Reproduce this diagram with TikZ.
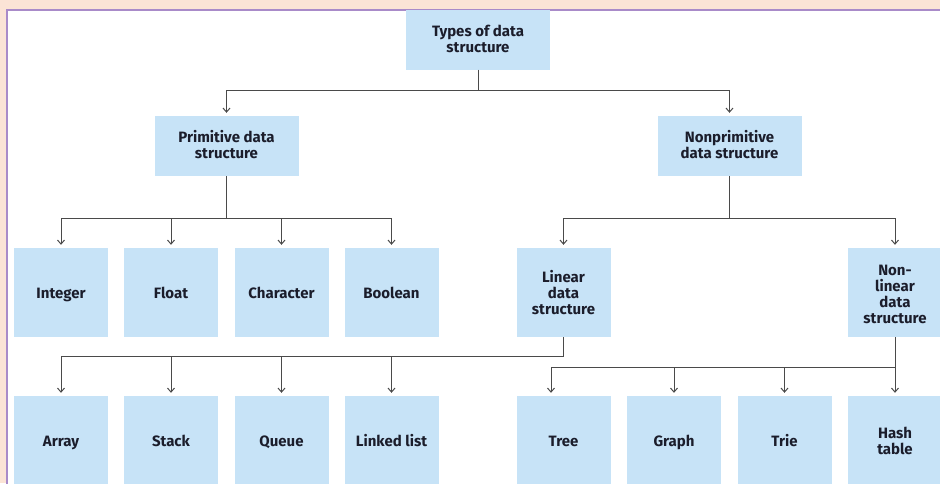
\documentclass[tikz,border=0pt]{standalone}
\usepackage{fontspec}
\setmainfont{Fira Sans}
\usetikzlibrary{arrows.meta,calc}
\definecolor{boxfill}{HTML}{C7E3F7}
\definecolor{pinkbg}{HTML}{FBE4D6}
\definecolor{frame}{HTML}{A98BC9}
\definecolor{txt}{HTML}{1B1D2B}
\definecolor{ln}{HTML}{4A4A4A}
\newcommand\vstrut[1]{\rule{0pt}{#1}}
\tikzset{
  box/.style={fill=boxfill, draw=none, align=center, text=txt,
    font=\fontsize{15}{16}\selectfont\bfseries, inner sep=0pt,
    execute at begin node={\rule{0pt}{14.9pt}},
    execute at end node={\rule[-3.5pt]{0pt}{3.5pt}}},
  tbox/.style={box, minimum width=144pt, minimum height=60pt},
  sbox/.style={box, minimum width=94pt, minimum height=89pt},
  conn/.style={draw=ln, line width=1pt},
  arr/.style={conn, -{Straight Barb[length=4pt,width=7pt]}, shorten >=3pt}
}
\begin{document}
\begin{tikzpicture}[x=1pt,y=-1pt]
\useasboundingbox (0,0) rectangle (940,483);
\clip (0,0) rectangle (940,483);
\fill[pinkbg] (0,0) rectangle (940,483);
\fill[white] (7,10) rectangle (945,490);
\draw[frame, line width=2pt] (7,490) -- (7,10) -- (945,10);

\node[tbox] (top) at (478,39.5) {\vstrut{13.3pt}Types of data\\structure};
\node[tbox] (prim) at (226.5,146) {\vstrut{13.3pt}Primitive data\\structure};
\node[tbox] (nonprim) at (729.5,146) {\vstrut{13.3pt}Nonprimitive\\data structure};

\node[sbox] (int) at (61,292.5) {Integer};
\node[sbox] (flt) at (171,292.5) {Float};
\node[sbox] (chr) at (281.5,292.5) {Character};
\node[sbox] (bool) at (391.5,292.5) {Boolean};
\node[sbox] (lin) at (563.5,292.5) {\vstrut{16.3pt}Linear\\data\\structure};
\node[sbox] (nonlin) at (895,292.5) {\vstrut{18.3pt}Non-\\linear\\data\\structure};

\node[sbox] (arr) at (61,440.5) {Array};
\node[sbox] (stk) at (171,440.5) {Stack};
\node[sbox] (que) at (281.5,440.5) {Queue};
\node[sbox] (ll) at (391.5,440.5) {Linked list};
\node[sbox] (tree) at (563.5,440.5) {Tree};
\node[sbox] (graph) at (674,440.5) {Graph};
\node[sbox] (trie) at (784.5,440.5) {Trie};
\node[sbox] (hash) at (895,440.5) {\vstrut{15.3pt}Hash\\table};

% top level
\draw[conn] (top.south) -- ++(0,21) coordinate (j1);
\draw[arr] (j1) -| (prim.north);
\draw[arr] (j1) -| (nonprim.north);

% primitive
\draw[conn] (prim.south) -- ++(0,42) coordinate (j2);
\draw[arr] (j2) -| (int.north);
\draw[arr] (j2) -| (flt.north);
\draw[arr] (j2) -| (chr.north);
\draw[arr] (j2) -| (bool.north);

% nonprimitive
\draw[conn] (nonprim.south) -- ++(0,42) coordinate (j3);
\draw[arr] (j3) -| (lin.north);
\draw[arr] (j3) -| (nonlin.north);

% linear
\draw[conn] (lin.south) -- ++(0,19) coordinate (j4);
\draw[arr] (j4) -| (arr.north);
\draw[arr] (j4) -| (stk.north);
\draw[arr] (j4) -| (que.north);
\draw[arr] (j4) -| (ll.north);

% non-linear
\coordinate (j5) at ($(nonlin.south)+(0,30)$);
\coordinate (treein) at ($(tree.north)+(-12.5,0)$);
\draw[arr] (nonlin.south) -- (hash.north);
\draw[arr] (j5) -| (treein);
\draw[arr] (j5) -| (graph.north);
\draw[arr] (j5) -| (trie.north);
\end{tikzpicture}
\end{document}
